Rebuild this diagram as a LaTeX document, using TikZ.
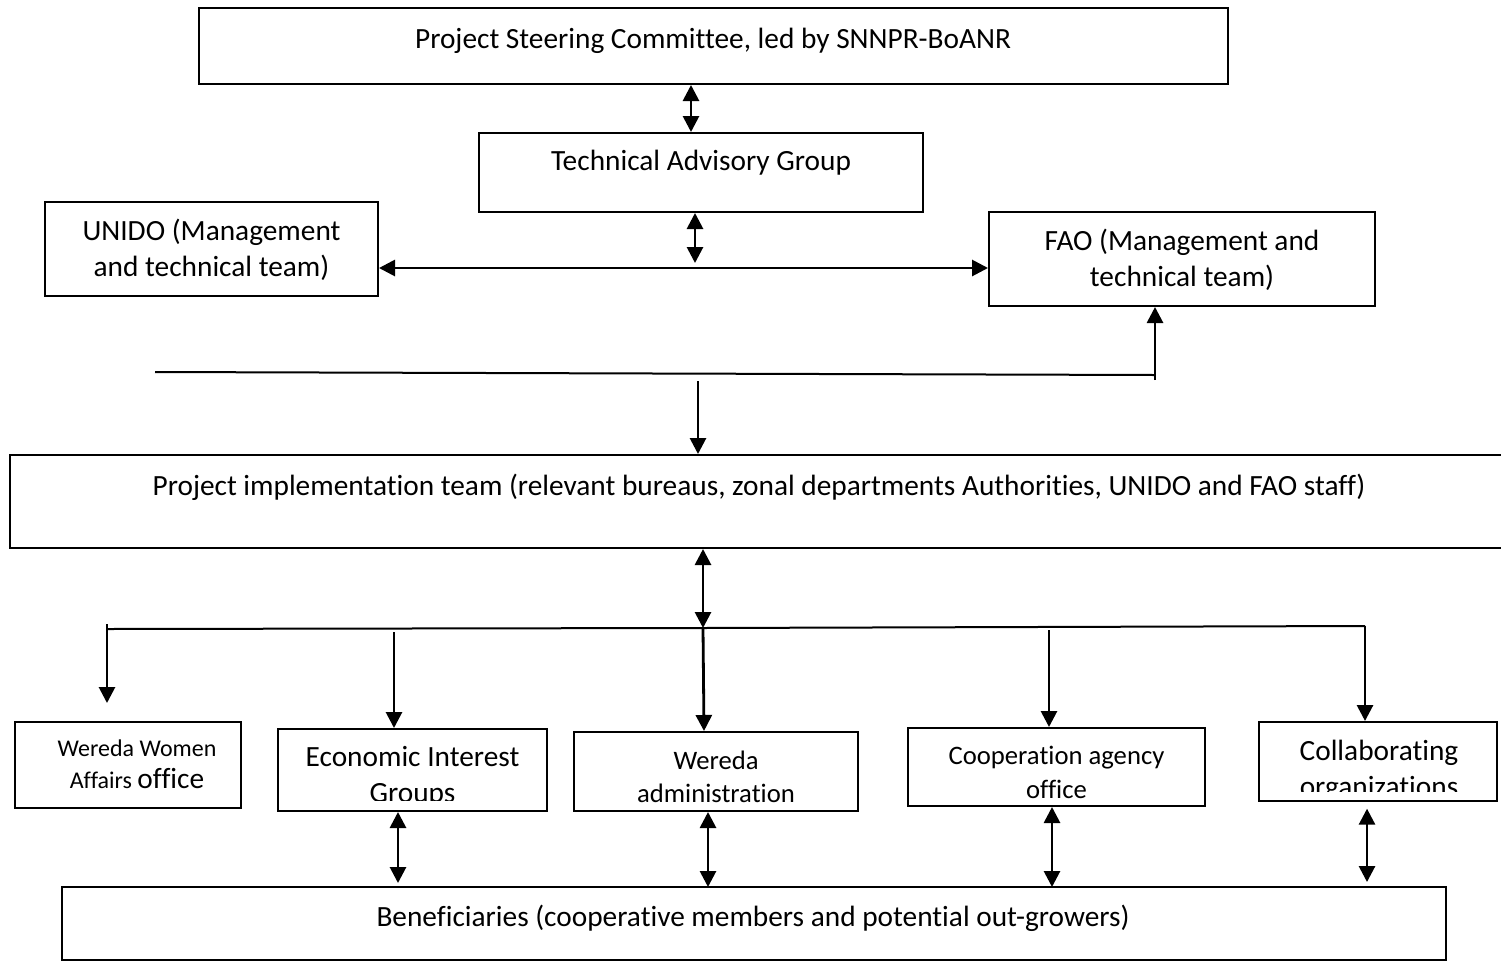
\documentclass[tikz,border=0pt]{standalone}
\usepackage{fontspec}
\setmainfont{Carlito}[Ligatures=NoCommon]
\usetikzlibrary{arrows.meta}

\tikzset{
  box/.style={draw, line width=1.5pt, inner sep=0pt},
  txt/.style={align=center, inner sep=0pt, font=\fontsize{22}{27}\selectfont},
  smalltxt/.style={align=center, inner sep=0pt, font=\fontsize{20}{25}\selectfont},
  arr/.style={line width=2.1pt, -{Triangle[length=12pt,width=12pt]}},
  dbl/.style={line width=2.1pt, {Triangle[length=12pt,width=12pt]}-{Triangle[length=12pt,width=12pt]}},
  bus/.style={line width=1.5pt}
}

\begin{document}
\begin{tikzpicture}[x=0.75pt, y=-0.75pt]
\useasboundingbox (0,0) rectangle (1501,964);

% boxes
\node[box, minimum width=771.75pt, minimum height=57pt] (psc) at (713.5,46) {};
\node[box, minimum width=333pt, minimum height=59.25pt] (tag) at (701,172.5) {};
\node[box, minimum width=249.75pt, minimum height=70.5pt] (unido) at (211.5,249) {};
\node[box, minimum width=289.5pt, minimum height=70.5pt] (fao) at (1182,259) {};
\node[box, minimum width=1121.25pt, minimum height=69.75pt] (pit) at (757.5,501.5) {};
\node[box, minimum width=169.5pt, minimum height=64.5pt] (wwa) at (128,765) {};
\node[box, minimum width=201.75pt, minimum height=61.5pt] (eig) at (412.5,770) {};
\node[box, minimum width=213pt, minimum height=59.25pt] (wadm) at (716,771.5) {};
\node[box, minimum width=222.75pt, minimum height=58.5pt] (coop) at (1056.5,767) {};
\node[box, minimum width=178.5pt, minimum height=59.25pt] (collab) at (1378,761.5) {};
\node[box, minimum width=1038pt, minimum height=54.75pt] (ben) at (754,923.5) {};

% texts
\node[txt] (psct) at (713,41) {Project Steering Committee, led by SNNPR-BoANR};
\node[txt] (tagt) at (701,163) {Technical Advisory Group};
\node[txt] (unidot) at (211.5,250) {UNIDO (Management\\and technical team)};
\node[txt] (faot) at (1182,260) {FAO (Management and\\technical team)};
\node[txt] (pitt) at (759,487) {Project implementation team (relevant bureaus, zonal departments Authorities, UNIDO and FAO staff)};
\node[align=center, inner sep=0pt, font=\fontsize{18}{24}\selectfont] (wwat) at (137,764) {Wereda Women\\Affairs {\fontsize{22}{24}\selectfont office}};
\begin{scope}
\clip (278,729) rectangle (547,800);
\node[txt] (eigt) at (412.5,777) {Economic Interest\\Groups};
\end{scope}
\node[smalltxt] (wadmt) at (716,776.5) {Wereda\\administration};
\node[smalltxt] (coopt) at (1056.5,772.5) {Cooperation agency\\office};
\begin{scope}
\clip (1259,722) rectangle (1497,791);
\node[txt] (collabt) at (1379,771) {Collaborating\\organizations};
\end{scope}
\node[txt] (bent) at (753,918) {Beneficiaries (cooperative members and potential out-growers)};

% top part
\coordinate (mid) at (695,268);
\coordinate (midtop) at (695,263);
\draw[dbl] ([xshift=-7.5pt]tag.north) -- ([xshift=-7.5pt]tag.north |- psc.south);
\draw[dbl] (tag.south -| midtop) -- (midtop);
\draw[dbl] (unido.east |- mid) -- (fao.west |- mid);

\coordinate (la) at (155,372);
\coordinate (lb) at (1155,375);
\coordinate (lc) at (1155,380);
\coordinate (ld) at (698,381);
\draw[bus] (la) -- (lb);
\draw[arr] (lc) -- (lc |- fao.south);
\draw[arr] (ld) -- (ld |- pit.north);

% lower part
\coordinate (hub) at (703,628);
\coordinate (c1) at (107,629);
\coordinate (c2) at (394,632);
\coordinate (c4) at (1049,630);
\coordinate (c5) at (1365,626);
\draw[dbl] (hub |- pit.south) -- (hub);
\draw[bus] (c1) -- (hub) -- (c5);
\draw[arr] ([yshift=3.75pt]c1) -- ++(0,79);
\draw[arr] (c2) -- (c2 |- eig.north);
\draw[arr] (hub) -- ([xshift=0.75pt]hub |- wadm.north);
\draw[arr] (c4) -- (c4 |- coop.north);
\draw[arr] (c5) -- (c5 |- collab.north);

\coordinate (d2) at (398,883);
\coordinate (d3) at (708,887);
\coordinate (d4) at (1052,887);
\coordinate (d5) at (1367,882);
\draw[dbl] (eig.south -| d2) -- (d2);
\draw[dbl] (wadm.south -| d3) -- (d3);
\draw[dbl] (coop.south -| d4) -- (d4);
\draw[dbl] ([yshift=-5pt]collab.south -| d5) -- (d5);
\end{tikzpicture}
\end{document}
